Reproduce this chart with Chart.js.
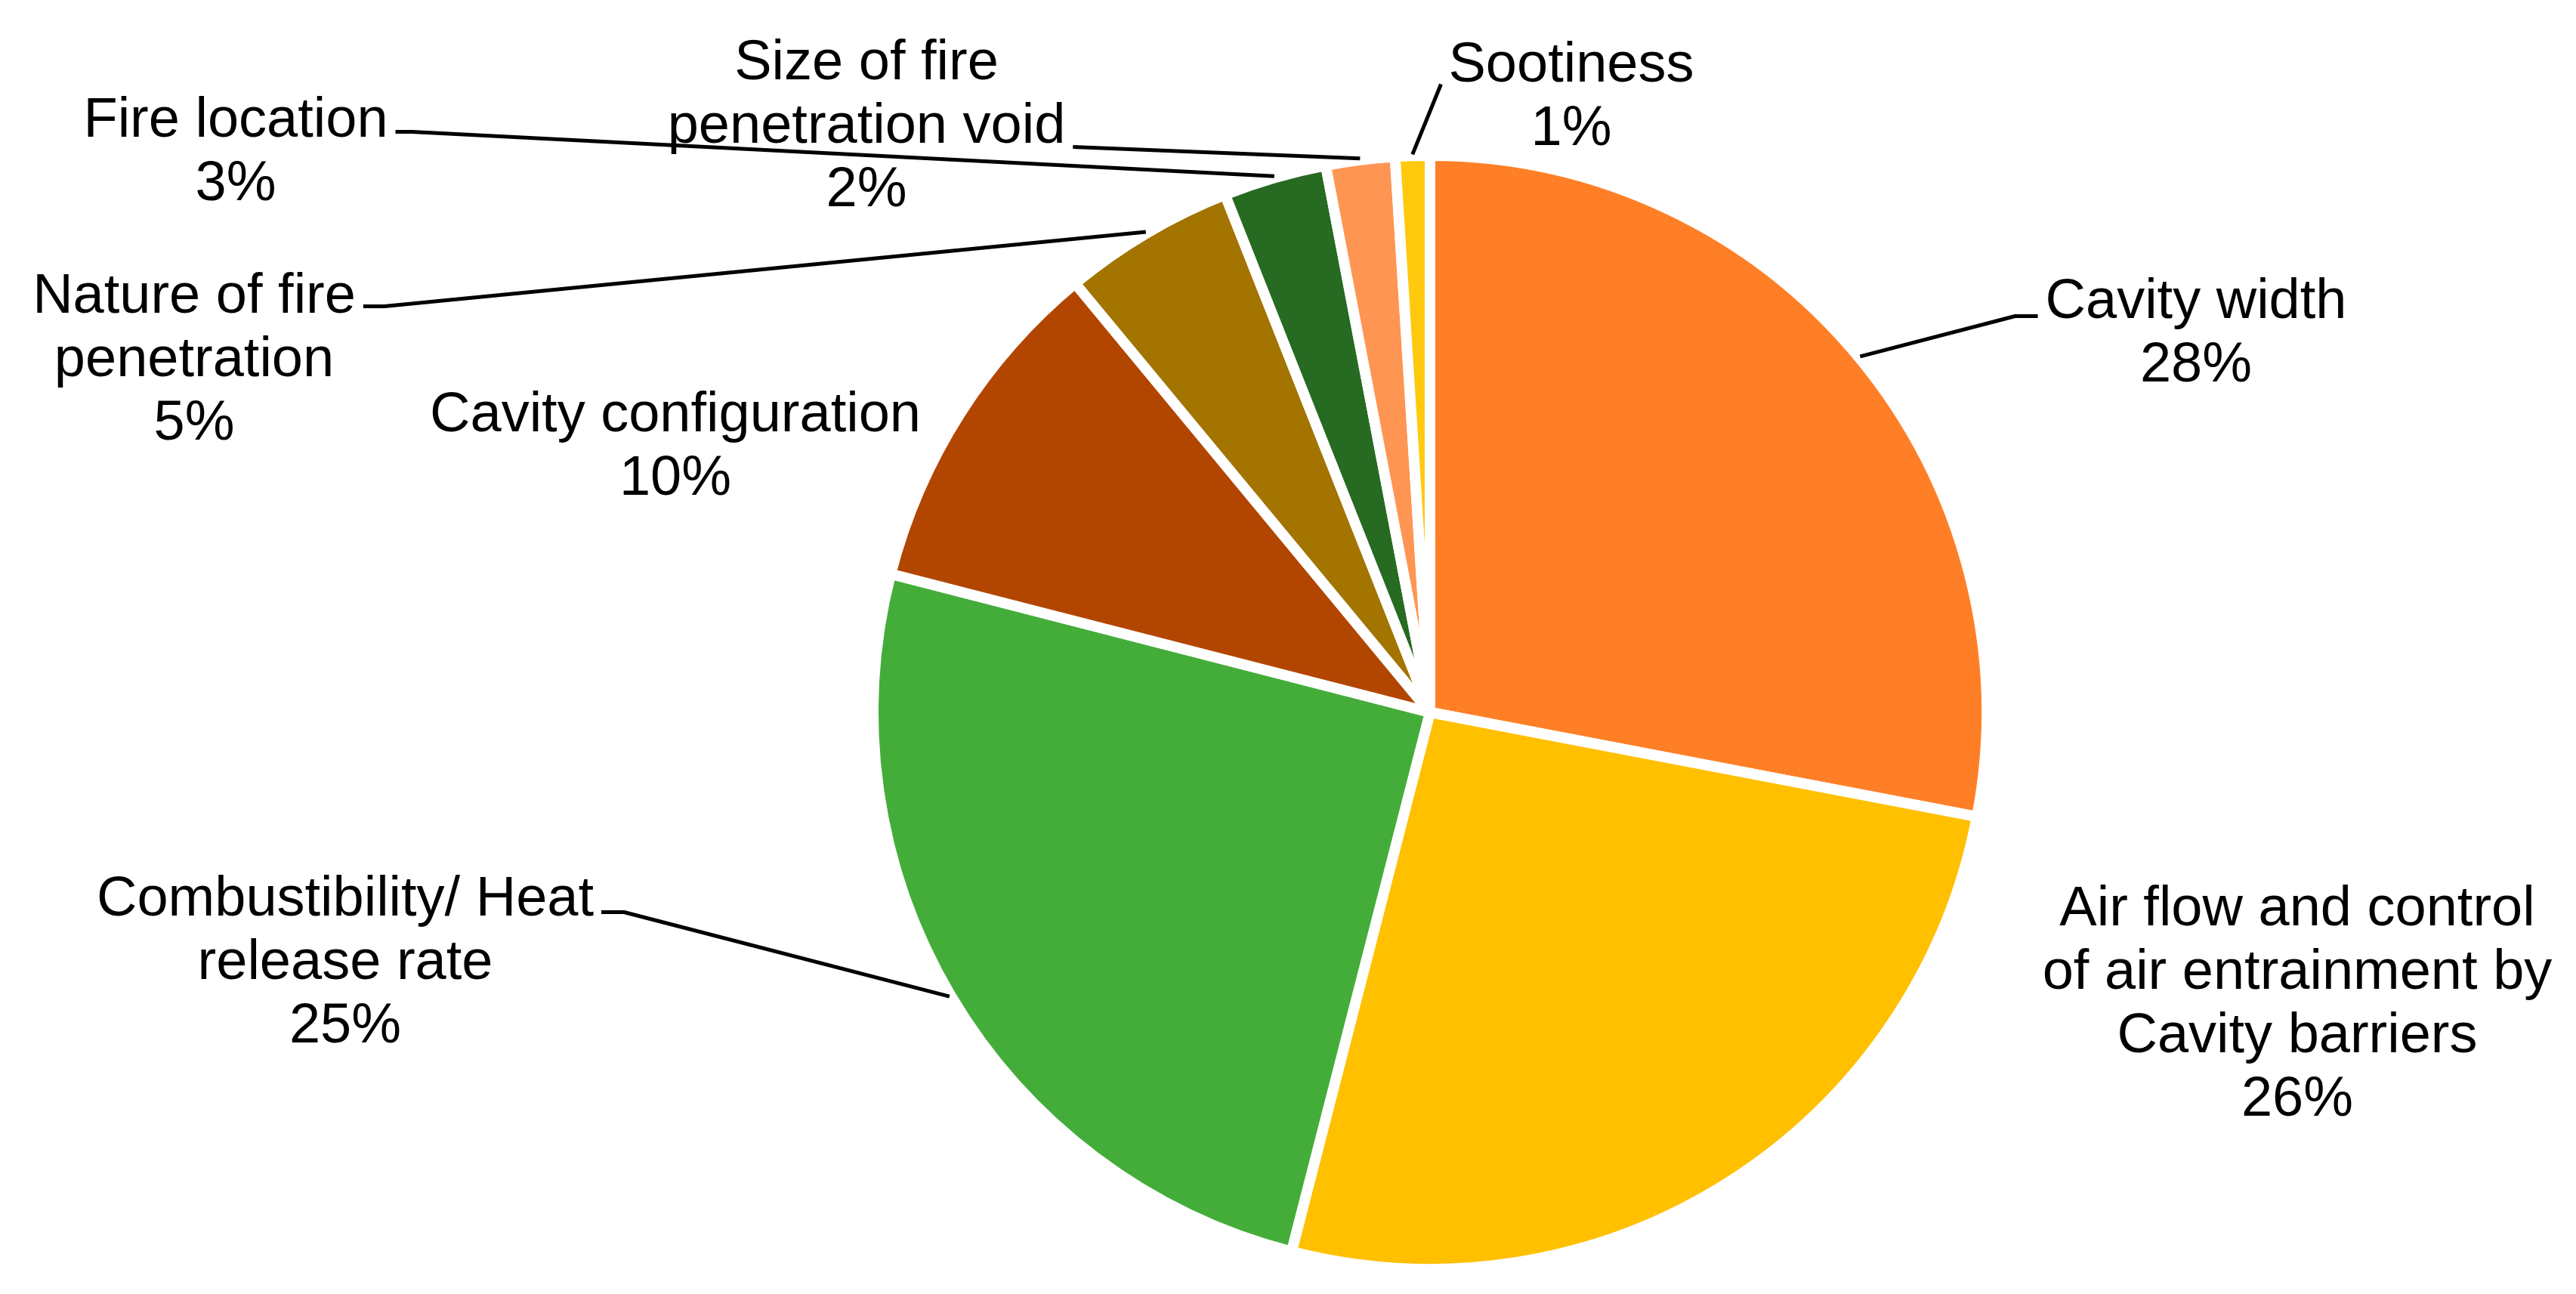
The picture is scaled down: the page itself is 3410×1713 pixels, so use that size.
<!DOCTYPE html>
<html>
<head>
<meta charset="utf-8">
<script src="https://cdn.jsdelivr.net/npm/chart.js@4/dist/chart.umd.min.js"></script>
<style>
  html, body { margin: 0; padding: 0; background: #fff; }
  #wrap { width: 3410px; height: 1713px; }
</style>
</head>
<body>
<div id="wrap"><canvas id="pie" width="3410" height="1713"></canvas></div>
<script>
// categories, clockwise from 12 o'clock
const categories = [
    ['Cavity width'],
    ['Air flow and control', 'of air entrainment by', 'Cavity barriers'],
    ['Combustibility/ Heat', 'release rate'],
    ['Cavity configuration'],
    ['Nature of fire', 'penetration'],
    ['Fire location'],
    ['Size of fire', 'penetration void'],
    ['Sootiness']
];
const shares = [28, 26, 25, 10, 5, 3, 2, 1];
const sliceColors = [
    '#FF7F27',
    '#FFC000',
    '#44AD3A',
    '#B24600',
    '#A37400',
    '#276A22',
    '#FF9552',
    '#FFC90E'
];

// where each label sits, px from the pie centre (dx = text centre, dy = middle of the block)
// side/line/stub/ady describe the leader line, if any
const labelPlacement = [
    { dx: 1014, dy: -507, side: 'left', line: 0, stub: 30, ady: -2 },
    { dx: 1148, dy: 381 },
    { dx: -1436, dy: 326, side: 'right', line: 0, stub: 30, ady: -4 },
    { dx: -999, dy: -357 },
    { dx: -1636, dy: -472, side: 'right', line: 0, stub: 28, ady: -8 },
    { dx: -1581, dy: -747, side: 'right', line: 0, stub: 22, ady: -6 },
    { dx: -746, dy: -781, side: 'right', line: 1, stub: 0, ady: 6 },
    { dx: 187, dy: -820, side: 'left', line: 0, stub: 0, ady: 4 }
];

const FONT = '74px "Liberation Sans", Arial, sans-serif';
const LINE_H = 84;
const CAP_H = 53;

// Chart.js has no outside labels with leader lines, so draw them here
const outerLabels = {
    id: 'outerLabels',
    afterDatasetsDraw(chart) {
        const ctx = chart.ctx;
        const meta = chart.getDatasetMeta(0);
        const total = shares.reduce((a, b) => a + b, 0);
        ctx.save();
        ctx.font = FONT;
        ctx.fillStyle = '#000';
        ctx.strokeStyle = '#000';
        ctx.lineWidth = 5;
        ctx.lineJoin = 'round';
        ctx.textAlign = 'center';
        ctx.textBaseline = 'alphabetic';

        meta.data.forEach((arc, i) => {
            const { x, y, startAngle, endAngle, outerRadius } =
                arc.getProps(['x', 'y', 'startAngle', 'endAngle', 'outerRadius'], true);
            const p = labelPlacement[i];
            const lines = categories[i].concat(Math.round(shares[i] / total * 100) + '%');
            const cx = x + p.dx;
            const cy = y + p.dy;
            const first = cy - (lines.length - 1) * LINE_H / 2 + CAP_H / 2;

            lines.forEach((t, k) => ctx.fillText(t, cx, first + k * LINE_H));

            if (p.side) {
                const w = ctx.measureText(lines[p.line]).width;
                const ay = first + p.line * LINE_H + p.ady;
                const ax = p.side === 'left' ? cx - w / 2 - 10 : cx + w / 2 + 10;
                const ex = p.side === 'left' ? ax - p.stub : ax + p.stub;
                const mid = (startAngle + endAngle) / 2;
                const r = outerRadius + 2;
                ctx.beginPath();
                ctx.moveTo(ax, ay);
                ctx.lineTo(ex, ay);
                ctx.lineTo(x + Math.cos(mid) * r, y + Math.sin(mid) * r);
                ctx.stroke();
            }
        });
        ctx.restore();
    }
};

new Chart(document.getElementById('pie'), {
    type: 'pie',
    data: {
        labels: categories,
        datasets: [
            {
                data: shares,
                backgroundColor: sliceColors,
                borderColor: '#ffffff',
                borderWidth: 14,
                hoverBorderWidth: 14,
                hoverOffset: 0
            }
        ]
    },
    options: {
        responsive: false,
        animation: false,
        events: [],
        layout: {
            padding: { left: 1149, right: 773, top: 199, bottom: 26 }
        },
        plugins: {
            legend: { display: false },
            tooltip: { enabled: false }
        }
    },
    plugins: [outerLabels]
});
</script>
</body>
</html>
